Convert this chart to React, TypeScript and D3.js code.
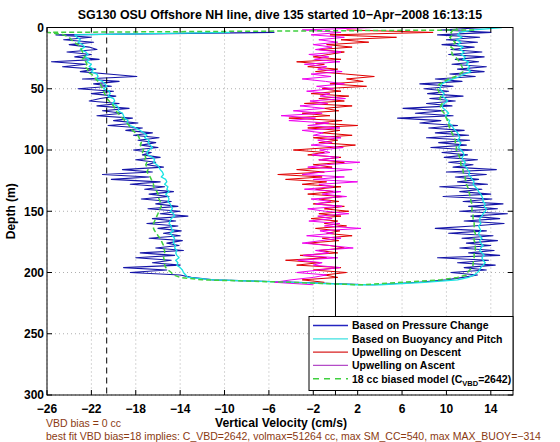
import React from "react";
import * as d3 from "d3";

const depth = [
  0, 2, 4, 6, 8, 10, 12, 14, 16, 18,
  20, 22, 24, 26, 28, 30, 32, 34, 36, 38,
  40, 42, 44, 46, 48, 50, 52, 54, 56, 58,
  60, 62, 64, 66, 68, 70, 72, 74, 76, 78,
  80, 82, 84, 86, 88, 90, 92, 94, 96, 98,
  100, 102, 104, 106, 108, 110, 112, 114, 116, 118,
  120, 122, 124, 126, 128, 130, 132, 134, 136, 138,
  140, 142, 144, 146, 148, 150, 152, 154, 156, 158,
  160, 162, 164, 166, 168, 170, 172, 174, 176, 178,
  180, 182, 184, 186, 188, 190, 192, 194, 196, 198,
  200, 202, 204, 206, 208, 210,
];

// Based on Pressure Change (descent, ascent)
const blueDown = [
  NaN, NaN, -5.5, -25.2, -22.0, -24.5, -21.8, -24.0, -22.2, -21.5,
  -24.2, -22.0, -23.5, -21.3, -25.6, -22.5, -24.6, -21.6, -23.0, -20.5,
  -17.9, -22.8, -19.5, -21.8, -20.2, -23.2, -20.0, -22.0, -19.8, -21.2,
  -22.2, -19.5, -21.5, -18.6, -21.0, -19.2, -21.5, -18.3, -20.0, -17.8,
  -20.5, -17.4, -18.9, -16.5, -18.2, -15.9, -17.8, -16.2, -17.5, -16.0,
  -18.2, -16.6, -17.4, -15.8, -18.0, -16.2, -17.0, -15.5, -19.2, -16.5,
  -21.0, -16.8, -20.2, -15.8, -18.5, -15.4, -17.2, -14.6, -16.8, -15.0,
  -17.5, -14.8, -16.2, -14.2, -16.9, -14.0, -15.8, -13.3, -16.5, -14.4,
  -17.0, -14.2, -16.0, -13.9, -15.5, -14.0, -16.8, -13.8, -15.2, -14.1,
  -16.2, -13.7, -17.6, -14.5, -18.0, -14.8, -16.5, -14.0, -19.1, -15.2,
  -18.5, -14.0, -13.0, -11.0, -3.5, 3.0,
];
const blueUp = [
  13.5, 9.5, 14.0, 9.2, 13.0, 10.0, 12.8, 9.6, 12.5, 10.4,
  13.2, 10.2, 13.4, 10.8, 12.9, 10.5, 13.6, 11.0, 13.4, 10.3,
  12.6, 9.0, 11.4, 7.6, 10.6, 8.0, 10.2, 8.3, 11.5, 8.5,
  10.8, 8.2, 10.5, 6.1, 9.8, 7.2, 10.6, 5.6, 9.5, 7.6,
  11.0, 8.4, 11.6, 9.0, 12.0, 8.2, 12.1, 9.3, 11.8, 8.6,
  12.3, 9.6, 11.9, 9.8, 12.8, 10.2, 12.4, 10.6, 14.5, 10.0,
  13.6, 10.8, 12.9, 11.0, 13.7, 9.4, 13.2, 11.2, 14.0, 9.7,
  14.1, 11.5, 15.1, 12.0, 14.6, 11.2, 15.5, 12.2, 14.8, 11.6,
  15.2, 12.4, 9.0, 13.6, 10.2, 14.2, 11.4, 14.6, 11.8, 14.0,
  11.2, 14.3, 12.0, 14.8, 9.2, 13.8, 11.0, 14.4, 11.6, 13.6,
  10.4, 12.8, 11.5, 10.0, 7.5, 3.5,
];

// Based on Buoyancy and Pitch
const cyanDown = [
  NaN, NaN, -9.5, -23.5, -23.3, -23.0, -23.2, -22.8, -22.6, -23.0,
  -22.5, -22.3, -22.6, -22.2, -22.4, -22.0, -22.2, -21.8, -22.0, -21.5,
  -21.4, -21.6, -21.0, -20.8, -20.6, -20.9, -20.4, -20.3, -20.5, -20.0,
  -19.9, -20.1, -19.7, -19.5, -19.6, -19.2, -19.1, -19.0, -18.7, -18.8,
  -18.5, -18.0, -17.6, -17.3, -17.0, -17.2, -16.8, -16.9, -16.7, -16.5,
  -16.8, -17.0, -16.9, -16.5, -16.3, -16.4, -16.1, -15.9, -15.8, -15.6,
  -15.5, -15.7, -15.3, -15.2, -15.4, -15.1, -15.2, -15.0, -15.3, -15.1,
  -15.0, -15.1, -14.9, -14.8, -14.7, -14.9, -14.6, -14.5, -14.8, -14.9,
  -15.0, -14.8, -14.8, -14.6, -14.9, -14.7, -14.5, -14.6, -14.6, -14.4,
  -14.5, -14.3, -14.4, -14.3, -14.1, -14.4, -14.2, -14.3, -14.0, -13.8,
  -13.7, -13.5, -13.3, -11.0, -4.0, 2.0,
];
const cyanUp = [
  15.0, 12.5, 11.2, 11.0, 11.4, 10.9, 11.3, 11.0, 11.5, 11.2,
  11.6, 11.3, 11.7, 11.5, 12.0, 11.8, 12.1, 11.9, 12.2, 11.6,
  11.2, 10.6, 10.0, 9.6, 9.5, 9.4, 9.6, 9.8, 9.6, 9.9,
  10.1, 9.8, 9.6, 9.7, 10.0, 10.2, 9.9, 10.0, 10.3, 10.2,
  10.5, 10.6, 10.8, 11.0, 11.1, 11.2, 11.0, 11.3, 11.2, 11.1,
  11.3, 11.5, 11.6, 11.4, 11.5, 11.7, 11.5, 11.8, 11.9, 12.1,
  12.0, 12.2, 12.3, 12.5, 12.4, 12.6, 12.8, 12.9, 13.1, 13.2,
  13.3, 13.3, 13.5, 13.4, 13.6, 13.5, 13.3, 13.2, 13.0, 13.0,
  13.1, 12.9, 13.0, 13.1, 12.9, 13.0, 13.2, 13.0, 13.1, 13.3,
  13.1, 13.0, 13.2, 13.4, 13.2, 13.3, 13.5, 13.3, 13.1, 13.0,
  12.8, 12.5, 12.0, 11.0, 8.0, 4.0,
];

// Upwelling on Descent
const redDescent = [
  NaN, 1.0, 8.8, -0.5, 5.5, 0.5, 3.0, -0.8, 1.5, -1.5,
  0.8, -0.6, -2.0, 0.5, -3.5, -1.0, -2.5, 0.2, -1.8, 0.9,
  3.5, 1.0, 2.5, -0.5, 2.8, -1.2, 0.5, -2.2, 1.2, -1.5,
  0.8, -2.8, 1.5, -1.0, 0.3, -3.0, -0.5, -4.2, 0.6, -1.8,
  2.0, -2.5, 0.4, -1.2, 1.5, -2.0, 0.2, -1.5, 1.8, -0.5,
  -3.8, -1.0, -2.5, 0.5, -1.5, 0.8, -2.0, -0.3, -3.5, -1.0,
  -5.2, -1.2, -4.5, -0.8, -3.0, 0.5, -1.8, -0.2, -2.5, 0.6,
  -1.5, 0.3, -2.0, 0.8, -1.0, 1.2, -1.5, 0.5, -2.2, 0.2,
  -1.0, 1.0, -1.8, 0.4, -0.8, 1.5, -1.2, 0.3, -2.5, -0.5,
  0.8, -1.5, 0.2, -3.2, -0.8, -4.5, -1.5, -3.5, 0.5, -2.0,
  1.0, -1.0, 0.2, -3.0, -1.0, NaN,
];

// Upwelling on Ascent
const magentaAscent = [
  3.5, -3.0, 0.5, -2.2, 0.8, -1.5, 0.2, -2.0, -0.3, -1.8,
  0.5, -2.4, -0.6, -1.9, 0.4, -2.8, -0.8, -1.6, 0.6, -2.2,
  -0.4, -3.0, -0.9, 0.8, -1.7, -0.2, -2.6, -0.5, -1.4, 0.9,
  -2.3, -0.7, -3.2, -1.0, -3.8, -1.2, -4.9, -1.8, -4.2, -0.6,
  -2.5, 0.4, -3.0, -1.1, -2.0, 0.5, -1.6, -0.3, -2.2, 0.7,
  -1.4, -0.5, -2.1, 0.3, -1.5, 2.2, -0.8, -2.5, 1.5, -1.2,
  -3.0, 0.8, -2.0, 2.0, -1.5, -0.2, -2.8, 0.5, -1.2, 1.0,
  -2.2, -0.4, -1.8, 0.6, -2.5, -0.9, 1.2, -1.6, -0.3, -2.4,
  0.4, -1.0, 2.3, -1.4, -0.2, -2.6, 0.5, -1.3, -3.0, -0.5,
  1.6, -1.8, -0.6, -2.9, 0.2, -3.4, -1.2, -2.0, 0.4, -1.5,
  -3.5, -0.8, -2.0, -4.0, -5.5, -2.0,
];

// 18 cc biased model
const greenDown = [
  NaN, 12.5, -25.9, -24.5, -24.0, -23.8, -23.6, -23.2, -23.0, -22.9,
  -22.8, -22.7, -22.6, -22.8, -22.5, -22.4, -22.6, -22.3, -22.4, -22.0,
  -21.8, -21.6, -21.4, -21.2, -21.1, -21.0, -20.9, -20.8, -20.7, -20.6,
  -20.4, -20.2, -20.0, -19.9, -19.8, -19.6, -19.4, -19.2, -19.0, -18.8,
  -18.6, -18.5, -18.3, -18.0, -17.8, -17.7, -17.6, -17.5, -17.6, -17.4,
  -17.3, -17.4, -17.2, -17.1, -17.2, -17.0, -17.1, -17.0, -16.9, -17.0,
  -16.8, -16.7, -16.6, -16.5, -16.4, -16.4, -16.2, -16.1, -16.0, -16.0,
  -15.9, -15.8, -15.8, -15.7, -15.8, -15.9, -16.0, -16.1, -16.2, -16.3,
  -16.4, -16.4, -16.4, -16.3, -16.1, -16.0, -15.8, -15.7, -15.6, -15.5,
  -15.5, -15.4, -15.4, -15.4, -15.5, -15.4, -15.4, -15.4, -15.3, -15.1,
  -14.8, -14.6, -14.0, -12.0, -4.0, 2.0,
];
const greenUp = [
  11.0, 10.6, 10.4, 10.6, 10.3, 10.5, 10.8, 10.6, 10.4, 10.7,
  10.5, 10.5, 10.8, 11.0, 11.2, 11.3, 11.4, 11.5, 11.5, 11.2,
  10.8, 10.2, 9.8, 9.4, 9.2, 9.2, 9.3, 9.4, 9.5, 9.4,
  9.5, 9.6, 9.5, 9.4, 9.6, 9.8, 9.9, 10.0, 10.1, 10.2,
  10.2, 10.3, 10.4, 10.5, 10.6, 10.7, 10.8, 10.8, 10.9, 10.9,
  10.9, 11.0, 11.1, 11.2, 11.2, 11.3, 11.3, 11.4, 11.5, 11.5,
  11.6, 11.7, 11.7, 11.8, 11.8, 11.9, 12.0, 12.0, 12.1, 12.1,
  12.2, 12.2, 12.3, 12.3, 12.3, 12.3, 12.4, 12.4, 12.4, 12.5,
  12.5, 12.5, 12.5, 12.5, 12.6, 12.6, 12.5, 12.5, 12.6, 12.6,
  12.6, 12.6, 12.5, 12.5, 12.5, 12.5, 12.4, 12.4, 12.3, 12.1,
  11.9, 11.8, 11.0, 9.5, 6.0, 2.5,
];

const xTicks = [-26, -22, -18, -14, -10, -6, -2, 2, 6, 10, 14];
const yTicks = [0, 50, 100, 150, 200, 250, 300];
const xDomain = [-26, 16];
const yDomain = [0, 300];
const vbdLine = -20.62;
const zeroLine = 0;

const titleText = "SG130 OSU Offshore NH line, dive 135 started 10\u2212Apr\u22122008 16:13:15";
const xLabel = "Vertical Velocity (cm/s)";
const yLabel = "Depth (m)";
const note1 = "VBD bias = 0 cc";
const note2 = "best fit VBD bias=18 implies: C_VBD=2642, volmax=51264 cc, max SM_CC=540, max MAX_BUOY=\u2212314";

const legendNames = [
  "Based on Pressure Change",
  "Based on Buoyancy and Pitch",
  "Upwelling on Descent",
  "Upwelling on Ascent",
];
const seriesColors = ["#1616a8", "#19e3e3", "#e00000", "#ee00ee", "#3fd03f"];
const legendColors = ["#2424c0", "#3ee0e0", "#d82020", "#b44cc8"];

const FONT = "'Liberation Sans', Arial, Helvetica, sans-serif";

export default function App() {
  const W = 560;
  const H = 442;
  const L = 47, R = 513, T = 27.5, B = 395;
  const x = d3.scaleLinear().domain(xDomain).range([L, R]);
  const y = d3.scaleLinear().domain(yDomain).range([T, B]);

  const line = d3
    .line<[number, number]>()
    .defined((p) => Number.isFinite(p[0]))
    .x((p) => x(p[0]))
    .y((p) => y(p[1]));

  const pathOf = (down: number[], up?: number[]) => {
    let pts: [number, number][] = depth.map((d, i) => [down[i], d]);
    if (up) {
      const upPts: [number, number][] = depth.map((d, i) => [up[i], d]);
      pts = pts.concat(upPts.reverse());
    }
    return line(pts) || "";
  };

  const fmt = (v: number) => (v < 0 ? "\u2212" + Math.abs(v) : String(v));

  const legX = 309, legY = 316.5, legW = 204, legH = 74;
  const rowY = (i: number) => legY + 9 + i * 13.3;

  return (
    <svg
      width={W}
      height={H}
      style={{ position: "absolute", left: 0, top: 0, background: "#fff" }}
      fontFamily={FONT}
    >
      <rect x={0} y={0} width={W} height={H} fill="#fff" />
      <defs>
        <clipPath id="plotclip">
          <rect x={L} y={T} width={R - L} height={B - T} />
        </clipPath>
      </defs>
      {/* grid */}
      {xTicks.map((t) => (
        <line key={"gx" + t} x1={x(t)} x2={x(t)} y1={T} y2={B} stroke="#9a9a9a" strokeWidth={0.8} strokeDasharray="1,3" />
      ))}
      {yTicks.map((t) => (
        <line key={"gy" + t} x1={L} x2={R} y1={y(t)} y2={y(t)} stroke="#9a9a9a" strokeWidth={0.8} strokeDasharray="1,3" />
      ))}
      <g clipPath="url(#plotclip)" fill="none" strokeLinejoin="round">
        <path d={pathOf(blueDown, blueUp)} stroke={seriesColors[0]} strokeWidth={1.1} />
        <path d={pathOf(cyanDown, cyanUp)} stroke={seriesColors[1]} strokeWidth={1.3} />
        <path d={pathOf(redDescent)} stroke={seriesColors[2]} strokeWidth={1} />
        <path d={pathOf(magentaAscent)} stroke={seriesColors[3]} strokeWidth={1} />
        <path d={pathOf(greenDown, greenUp)} stroke={seriesColors[4]} strokeWidth={1.5} strokeDasharray="5,3" />
        <line x1={x(vbdLine)} x2={x(vbdLine)} y1={T} y2={B} stroke="#000" strokeWidth={1} strokeDasharray="6,4" />
        <line x1={x(zeroLine)} x2={x(zeroLine)} y1={T} y2={B} stroke="#000" strokeWidth={1} />
      </g>
      {/* axes box and ticks */}
      <rect x={L} y={T} width={R - L} height={B - T} fill="none" stroke="#000" strokeWidth={1} />
      {xTicks.map((t) => (
        <g key={"tx" + t}>
          <line x1={x(t)} x2={x(t)} y1={B} y2={B - 5} stroke="#000" />
          <line x1={x(t)} x2={x(t)} y1={T} y2={T + 5} stroke="#000" />
          <text x={x(t)} y={413} textAnchor="middle" fontSize={12} fontWeight="bold" fill="#000">
            {fmt(t)}
          </text>
        </g>
      ))}
      {yTicks.map((t) => (
        <g key={"ty" + t}>
          <line x1={L} x2={L + 5} y1={y(t)} y2={y(t)} stroke="#000" />
          <line x1={R} x2={R - 5} y1={y(t)} y2={y(t)} stroke="#000" />
          <text x={44} y={y(t) + 4.3} textAnchor="end" fontSize={12} fontWeight="bold" fill="#000">
            {t}
          </text>
        </g>
      ))}
      {/* legend */}
      <rect x={legX} y={legY} width={legW} height={legH} fill="#fff" stroke="#000" strokeWidth={1} />
      {legendNames.map((n, i) => (
        <g key={n}>
          <line x1={legX + 4} x2={legX + 39} y1={rowY(i)} y2={rowY(i)} stroke={legendColors[i]} strokeWidth={1.3} />
          <text x={legX + 43} y={rowY(i) + 3.8} fontSize={10.5} fontWeight="bold" fill="#000">
            {n}
          </text>
        </g>
      ))}
      <line x1={legX + 4} x2={legX + 39} y1={rowY(4)} y2={rowY(4)} stroke={seriesColors[4]} strokeWidth={1.6} strokeDasharray="6,5" />
      <text x={legX + 43} y={rowY(4) + 3.8} fontSize={10.5} fontWeight="bold" fill="#000">
        18 cc biased model (C
        <tspan fontSize={7.5} dy={3}>VBD</tspan>
        <tspan dy={-3}>=2642)</tspan>
      </text>
      {/* title and labels */}
      <text x={(L + R) / 2} y={19} textAnchor="middle" fontSize={12.4} fontWeight="bold" fill="#000">
        {titleText}
      </text>
      <text x={281} y={426.5} textAnchor="middle" fontSize={12.2} fontWeight="bold" fill="#000">
        {xLabel}
      </text>
      <text transform={`translate(15,${(T + B) / 2}) rotate(-90)`} textAnchor="middle" fontSize={12} fontWeight="bold" fill="#000">
        {yLabel}
      </text>
      <text x={46} y={427} fontSize={10.5} fill="#8b3a12">
        {note1}
      </text>
      <text x={46} y={439.5} fontSize={10.5} fill="#8b3a12">
        {note2}
      </text>
    </svg>
  );
}
